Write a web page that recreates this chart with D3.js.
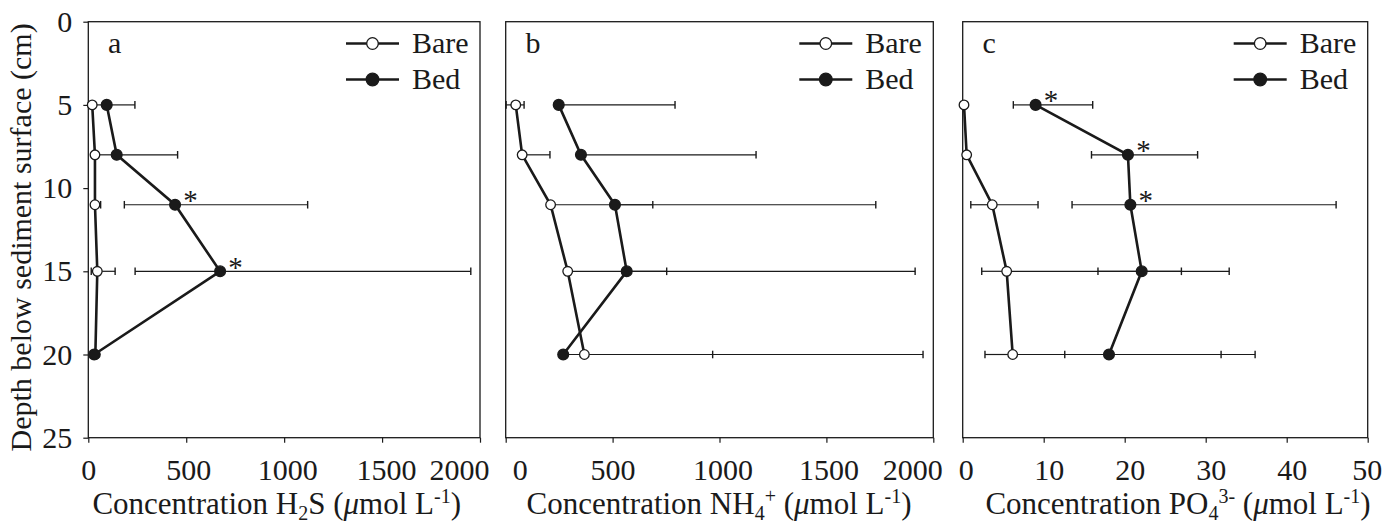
<!DOCTYPE html>
<html>
<head>
<meta charset="utf-8">
<script src="https://cdn.jsdelivr.net/npm/d3@7"></script>
<style>
  body { margin: 0; background: #fff; }
  svg text { font-family: "Liberation Serif", "Times New Roman", "DejaVu Serif", serif; fill: #1a1a1a; }
</style>
</head>
<body>
<svg id="chart" width="1383" height="525"></svg>
<script>
// depths (cm) shared by all three profiles
const depths = [5, 8, 11, 15, 20];
const depthTicks = [0, 5, 10, 15, 20, 25];

// H2S (umol/L)
const h2sBare   = [20, 34, 34, 46, 36];
const h2sBareLo = [20, 34, 34, 15, 36];
const h2sBareHi = [20, 34, 63, 137, 36];
const h2sBed    = [94, 145, 443, 673, 30];
const h2sBedLo  = [30, 34, 184, 239, 30];
const h2sBedHi  = [238, 456, 1120, 1953, 30];
const h2sStars  = [false, false, true, true, false];
const h2sTicks  = [0, 500, 1000, 1500, 2000];

// NH4+ (umol/L)
const nh4Bare   = [47, 77, 210, 290, 368];
const nh4BareLo = [2, 77, 210, 290, 368];
const nh4BareHi = [86, 207, 688, 753, 968];
const nh4Bed    = [248, 352, 511, 566, 269];
const nh4BedLo  = [248, 352, 511, 566, 269];
const nh4BedHi  = [792, 1171, 1731, 1915, 1952];
const nh4Stars  = [false, false, false, false, false];
const nh4Ticks  = [0, 500, 1000, 1500, 2000];

// PO4 3- (umol/L)
const po4Bare   = [0.16, 0.49, 3.65, 5.43, 6.17];
const po4BareLo = [0.16, 0.49, 1.0, 2.35, 2.75];
const po4BareHi = [0.16, 0.49, 9.3, 27.0, 31.9];
const po4Bed    = [9.0, 20.4, 20.7, 22.1, 18.06];
const po4BedLo  = [6.25, 15.9, 13.5, 16.7, 12.6];
const po4BedHi  = [16.05, 29.0, 46.1, 32.9, 36.1];
const po4Stars  = [true, true, true, false, false];
const po4Ticks  = [0, 10, 20, 30, 40, 50];

const legendLabels = ["Bare", "Bed"];

const svg = d3.select("#chart");
const serif = "'Liberation Serif', 'Times New Roman', 'DejaVu Serif', serif";
const plotTop = 21.7, plotBottom = 437.7;
const ink = "#1a1a1a";

const y = d3.scaleLinear().domain([0, 25]).range([plotTop, plotBottom]);

const panels = [
  { letter: "a", left: 88.3, right: 480, max: 2000, ticks: h2sTicks, dx: [0, 2, 3, 4, -21],
    bare: h2sBare, bareLo: h2sBareLo, bareHi: h2sBareHi,
    bed: h2sBed, bedLo: h2sBedLo, bedHi: h2sBedHi, stars: h2sStars,
    title: [["Concentration H"], ["2", "sub"], ["S ("], ["\u03bc", "it"], ["mol L"], ["-1", "sup"], [")"]],
    titleX: 276.7, yAxis: true },
  { letter: "b", left: 505.7, right: 933.3, max: 2000, ticks: nh4Ticks, dx: [14, 0, 3, 2, -21],
    bare: nh4Bare, bareLo: nh4BareLo, bareHi: nh4BareHi,
    bed: nh4Bed, bedLo: nh4BedLo, bedHi: nh4BedHi, stars: nh4Stars,
    title: [["Concentration NH"], ["4", "sub"], ["+", "sup"], [" ("], ["\u03bc", "it"], ["mol L"], ["-1", "sup"], [")"]],
    titleX: 719, yAxis: false },
  { letter: "c", left: 962.7, right: 1367.7, max: 50, ticks: po4Ticks, dx: [3, 5, 5, 5, 5, -1],
    bare: po4Bare, bareLo: po4BareLo, bareHi: po4BareHi,
    bed: po4Bed, bedLo: po4BedLo, bedHi: po4BedHi, stars: po4Stars,
    title: [["Concentration PO"], ["4", "sub"], ["3-", "sup"], [" ("], ["\u03bc", "it"], ["mol L"], ["-1", "sup"], [")"]],
    titleX: 1178, yAxis: false }
];

function richText(sel, parts) {
  let shift = 0;
  parts.forEach(([t, kind]) => {
    const target = kind === "sub" ? 6 : kind === "sup" ? -11 : 0;
    const ts = sel.append("tspan").text(t).attr("dy", target - shift);
    if (kind === "sub" || kind === "sup") ts.attr("font-size", 20);
    if (kind === "it") ts.attr("font-style", "italic");
    shift = target;
  });
}

panels.forEach(p => {
  const x = d3.scaleLinear().domain([0, p.max]).range([p.left, p.right]);
  const g = svg.append("g").attr("font-family", serif);

  // frame
  g.append("rect")
    .attr("x", p.left).attr("y", plotTop)
    .attr("width", p.right - p.left).attr("height", plotBottom - plotTop)
    .attr("fill", "none").attr("stroke", ink).attr("stroke-width", 1.3);

  // x axis
  const xa = g.append("g")
    .attr("transform", `translate(0,${plotBottom})`)
    .call(d3.axisBottom(x).tickValues(p.ticks).tickFormat(d3.format("d"))
      .tickSize(5).tickSizeOuter(0).tickPadding(16));
  xa.attr("font-family", serif).attr("font-size", 30);
  xa.select(".domain").remove();
  xa.selectAll("line").attr("stroke", ink).attr("stroke-width", 1.2);
  xa.selectAll("text").attr("fill", ink).attr("dx", (d, i) => p.dx[i]);

  if (p.yAxis) {
    const ya = g.append("g")
      .attr("transform", `translate(${p.left},0)`)
      .call(d3.axisLeft(y).tickValues(depthTicks).tickSize(5).tickSizeOuter(0).tickPadding(11));
    ya.attr("font-family", serif).attr("font-size", 30);
    ya.select(".domain").remove();
    ya.selectAll("line").attr("stroke", ink).attr("stroke-width", 1.2);
    ya.selectAll("text").attr("fill", ink);
  }

  const series = [
    { name: "Bare", v: p.bare, lo: p.bareLo, hi: p.bareHi, fill: "#fff", r: 4.8, lr: 5.8 },
    { name: "Bed", v: p.bed, lo: p.bedLo, hi: p.bedHi, fill: ink, r: 5.4, lr: 6.3 }
  ];

  // error bars
  series.forEach(s => {
    depths.forEach((d, i) => {
      const yy = y(d);
      [[s.lo[i], s.v[i]], [s.v[i], s.hi[i]]].forEach(([a, b]) => {
        if (a === b) return;
        g.append("line")
          .attr("x1", x(a)).attr("x2", x(b)).attr("y1", yy).attr("y2", yy)
          .attr("stroke", ink).attr("stroke-width", 1.2);
      });
      [s.lo[i], s.hi[i]].forEach(e => {
        if (e === s.v[i]) return;
        g.append("line")
          .attr("x1", x(e)).attr("x2", x(e)).attr("y1", yy - 3.8).attr("y2", yy + 3.8)
          .attr("stroke", ink).attr("stroke-width", 1.4);
      });
    });
  });

  // profile lines and markers
  const line = d3.line().x(d => x(d[0])).y(d => y(d[1]));
  series.forEach(s => {
    g.append("path")
      .datum(s.v.map((v, i) => [v, depths[i]]))
      .attr("fill", "none").attr("stroke", ink).attr("stroke-width", 2.6)
      .attr("d", line);
  });
  series.forEach(s => {
    g.selectAll(null)
      .data(s.v.map((v, i) => [v, depths[i]]))
      .enter().append("circle")
      .attr("cx", d => x(d[0])).attr("cy", d => y(d[1]))
      .attr("r", s.r)
      .attr("fill", s.fill).attr("stroke", ink).attr("stroke-width", 1.3);
  });

  // significance stars
  g.selectAll(null)
    .data(depths.map((d, i) => [p.bed[i], d, p.stars[i]]).filter(d => d[2]))
    .enter().append("text")
    .attr("x", d => x(d[0]) + 15.5).attr("y", d => y(d[1]) + 5.5)
    .attr("text-anchor", "middle").attr("font-size", 29)
    .text("*");

  // panel letter
  g.append("text").attr("x", p.left + 19.7).attr("y", 52.5)
    .attr("font-size", 30).text(p.letter);

  // legend
  legendLabels.forEach((lab, i) => {
    const ly = 43.5 + i * 36;
    g.append("line")
      .attr("x1", p.right - 134).attr("x2", p.right - 81)
      .attr("y1", ly).attr("y2", ly)
      .attr("stroke", ink).attr("stroke-width", 2.6);
    g.append("circle")
      .attr("cx", p.right - 107.5).attr("cy", ly)
      .attr("r", series[i].lr)
      .attr("fill", series[i].fill).attr("stroke", ink).attr("stroke-width", 1.3);
    g.append("text").attr("x", p.right - 68).attr("y", ly + 9.2)
      .attr("font-size", 30).text(lab);
  });

  // x title
  const t = g.append("text").attr("x", p.titleX).attr("y", 514)
    .attr("text-anchor", "middle").attr("font-size", 31);
  richText(t, p.title);
});

// y title
svg.append("text")
  .attr("transform", "translate(31,237.4) rotate(-90)")
  .attr("font-family", serif)
  .attr("text-anchor", "middle").attr("font-size", 30)
  .text("Depth below sediment surface (cm)");
</script>
</body>
</html>
